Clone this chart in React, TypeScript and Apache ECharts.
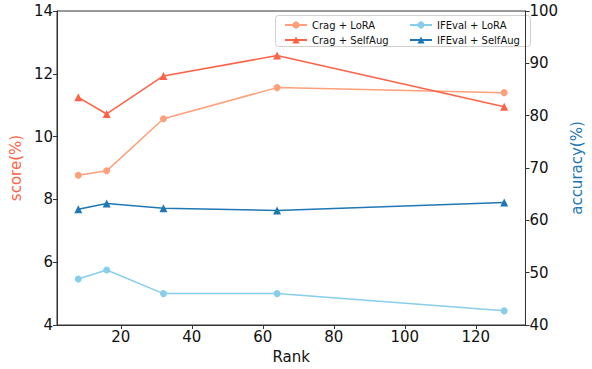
import React, { useEffect, useRef } from "react";
import * as echarts from "echarts";

const ranks = [8, 16, 32, 64, 128];
const cragLora = [8.77, 8.91, 10.57, 11.56, 11.4];
const cragSelfAug = [11.25, 10.72, 11.93, 12.58, 10.95];
const ifevalLora = [48.8, 50.5, 46.0, 46.0, 42.7];
const ifevalSelfAug = [62.1, 63.2, 62.3, 61.9, 63.4];
const xTicks = [20, 40, 60, 80, 100, 120];

const FONT = "DejaVu Sans";

const pairs = (ys: number[]) => ranks.map((x, i) => [x, ys[i]]);

export default function App() {
  const ref = useRef<HTMLDivElement>(null);
  useEffect(() => {
    if (!ref.current) return;
    const chart = echarts.init(ref.current, undefined, { renderer: "svg" });
    const axisLine = { show: true, lineStyle: { color: "#333", width: 1 } };
    const axisTick = { show: true, length: 4, inside: false, lineStyle: { color: "#333" } };
    const axisLabel = { color: "#111", fontSize: 15, fontFamily: FONT, margin: 4 };
    const mk = (name: string, data: number[], color: string, symbol: string, size: number, yIdx: number) => ({
      name,
      type: "line",
      yAxisIndex: yIdx,
      data: pairs(data),
      symbol,
      symbolSize: size,
      showSymbol: true,
      lineStyle: { color, width: 1.5 },
      itemStyle: { color },
      emphasis: { disabled: true },
    });
    const legendBase = {
      orient: "vertical",
      top: 20,
      padding: 0,
      itemWidth: 22,
      itemHeight: 9,
      itemGap: 5,
      textStyle: { fontSize: 10, color: "#111", fontFamily: FONT },
    };
    chart.setOption({
      animation: false,
      textStyle: { fontFamily: FONT },
      grid: { left: 55, right: 61, top: 11, bottom: 43, show: true, borderColor: "#333", borderWidth: 1 },
      xAxis: {
        type: "value",
        min: 2,
        max: 134,
        name: "Rank",
        nameLocation: "middle",
        nameGap: 24,
        nameTextStyle: { color: "#111", fontSize: 15, fontFamily: FONT },
        axisLine,
        axisTick: { ...axisTick, customValues: xTicks },
        axisLabel: { ...axisLabel, customValues: xTicks },
        splitLine: { show: false },
      },
      yAxis: [
        {
          type: "value",
          min: 4,
          max: 14,
          interval: 2,
          position: "left",
          name: "score(%)",
          nameLocation: "middle",
          nameGap: 32,
          nameTextStyle: { color: "#ff6347", fontSize: 15, fontFamily: FONT },
          axisLine,
          axisTick,
          axisLabel,
          splitLine: { show: false },
        },
        {
          type: "value",
          min: 40,
          max: 100,
          interval: 10,
          position: "right",
          name: "accuracy(%)",
          nameLocation: "middle",
          nameGap: 40,
          nameRotate: 90,
          nameTextStyle: { color: "#1f77b4", fontSize: 15, fontFamily: FONT },
          axisLine,
          axisTick,
          axisLabel,
          splitLine: { show: false },
        },
      ],
      legend: [
        { ...legendBase, left: 284, data: ["Crag + LoRA", "Crag + SelfAug"] },
        { ...legendBase, left: 409, data: ["IFEval + LoRA", "IFEval + SelfAug"] },
      ],
      graphic: [
        {
          type: "rect",
          z: 0,
          shape: { x: 275.5, y: 15.5, width: 255, height: 31, r: 3 },
          style: { fill: "#fff", stroke: "#d0d0d0", lineWidth: 1 },
        },
      ],
      series: [
        mk("Crag + LoRA", cragLora, "#ffa07a", "circle", 7, 0),
        mk("Crag + SelfAug", cragSelfAug, "#ff6347", "triangle", 8, 0),
        mk("IFEval + LoRA", ifevalLora, "#87ceeb", "circle", 7, 1),
        mk("IFEval + SelfAug", ifevalSelfAug, "#1f77b4", "triangle", 8, 1),
      ],
    });
    return () => chart.dispose();
  }, []);
  return <div ref={ref} style={{ width: 592, height: 369, position: "absolute", left: 0, top: 0 }} />;
}
